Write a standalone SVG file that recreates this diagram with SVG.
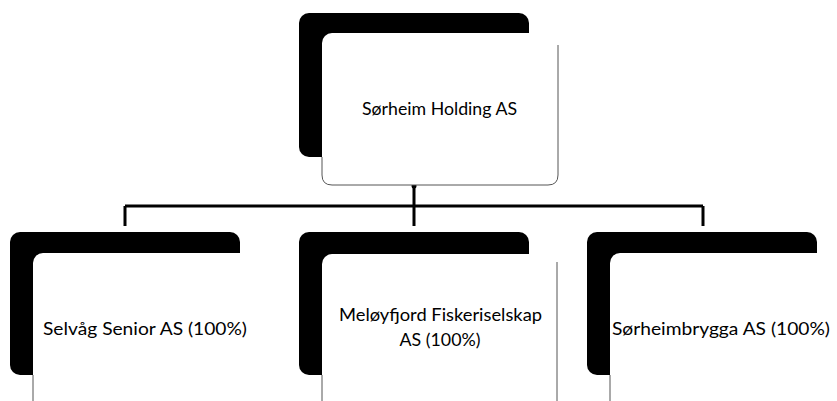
<svg xmlns="http://www.w3.org/2000/svg" width="837" height="401" viewBox="0 0 837 401">
<style>
.shadow{fill:#000}
.front{fill:#fff}
.edge{fill:none;stroke:#555;stroke-width:1}
.lbl{font-family:Lato,"Liberation Sans",sans-serif;font-size:18px;fill:#000;text-anchor:middle}
.conn{fill:none;stroke:#000;stroke-width:3}
</style>
<rect width="837" height="401" fill="#fff"/>
<g id="connectors">
<path class="conn" d="M414,186 V206 M125,206 H703 M125,206 V226 M414,206 V226 M703,206 V226"/>
<circle cx="414" cy="186" r="2.5" fill="#000"/>
</g>
<g id="node-holding">
<rect class="shadow" x="299" y="13" width="230" height="144" rx="10"/>
<rect class="front" x="322" y="33" width="236" height="152" rx="10"/>
<path class="edge" d="M558,45 V175 Q558,185 548,185 H332 Q322,185 322,175 V157"/>
<text class="lbl" x="439.5" y="115" textLength="155" lengthAdjust="spacingAndGlyphs">Sørheim Holding AS</text>
</g>
<g id="node-selvag">
<rect class="shadow" x="10" y="232" width="230" height="143" rx="10"/>
<rect class="front" x="33" y="253" width="232" height="160" rx="10"/>
<path class="edge" d="M33,375 V401" />
<text class="lbl" x="145" y="335" textLength="204" lengthAdjust="spacingAndGlyphs">Selvåg Senior AS (100%)</text>
</g>
<g id="node-meloyfjord">
<rect class="shadow" x="299" y="232" width="230" height="143" rx="10"/>
<rect class="front" x="322" y="254" width="236" height="160" rx="10"/>
<path class="edge" d="M557,262 V401 M322,375 V401"/>
<text class="lbl" x="440.5" y="321" textLength="203" lengthAdjust="spacingAndGlyphs">Meløyfjord Fiskeriselskap</text>
<text class="lbl" x="440" y="346" textLength="81" lengthAdjust="spacingAndGlyphs">AS (100%)</text>
</g>
<g id="node-sorheimbrygga">
<rect class="shadow" x="587" y="232" width="230" height="143" rx="10"/>
<rect class="front" x="610" y="253" width="236" height="160" rx="10"/>
<path class="edge" d="M610,375 V401"/>
<text class="lbl" x="721" y="335" textLength="218" lengthAdjust="spacingAndGlyphs">Sørheimbrygga AS (100%)</text>
</g>
</svg>
